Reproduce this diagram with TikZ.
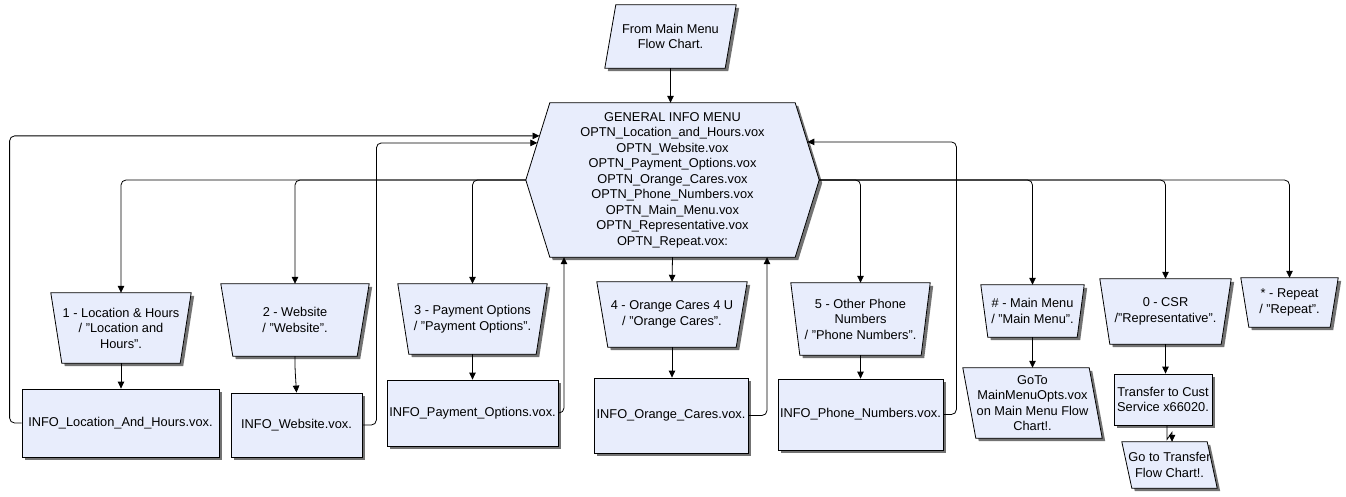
\documentclass[tikz,border=0pt]{standalone}
\usepackage{fontspec}
\setmainfont{Liberation Sans}
\usetikzlibrary{shadows,arrows.meta,calc}
\definecolor{boxfill}{RGB}{232,237,252}
\pgfdeclarelayer{paper}
\pgfdeclarelayer{shapes}
\pgfsetlayers{paper,shapes,main}
\begin{document}
\begin{tikzpicture}[x=1pt,y=-1pt,
  font=\fontsize{12.8}{15.5}\selectfont,
  every node/.style={inner sep=0pt, align=center},
  block/.style={draw=black, line width=0.8pt, fill=boxfill,
    drop shadow={shadow xshift=3pt, shadow yshift=-3pt, fill=black!55, opacity=1}},
  area/.style 2 args={rectangle, minimum width=#1, minimum height=#2},
  rectbox/.style 2 args={block, area={#1}{#2}},
  flow/.style={draw=black, line width=0.8pt, rounded corners=5pt,
    -{Triangle[length=7pt,width=6.5pt]}}]

\begin{pgfonlayer}{paper}
  \fill[white] (0,0) rectangle (1346,497);
\end{pgfonlayer}
\useasboundingbox (0,0) rectangle (1346,497);

% entry point and menu
\node[area={131}{63}] (from) at (670.5,36.5) {From Main Menu\\Flow Chart.};
\node[area={293}{154}] (hex) at (672.5,180)
  {GENERAL INFO MENU\\OPTN\_Location\_and\_Hours.vox\\OPTN\_Website.vox\\
   OPTN\_Payment\_Options.vox\\OPTN\_Orange\_Cares.vox\\OPTN\_Phone\_Numbers.vox\\
   OPTN\_Main\_Menu.vox\\OPTN\_Representative.vox\\OPTN\_Repeat.vox:};

% menu choices (manual operation shapes)
\node[area={140}{70}] (n1) at (121,328) {1 - Location \& Hours\\/ "Location and\\Hours".};
\node[area={148}{72}] (n2) at (295,320) {2 - Website\\/ "Website".};
\node[area={149}{70}] (n3) at (472.5,319) {3 - Payment Options\\/ "Payment Options".};
\node[area={150}{65}] (n4) at (672,314.5) {4 - Orange Cares 4 U\\/ "Orange Cares".};
\node[area={139}{72}] (n5) at (860.5,319) {5 - Other Phone\\Numbers\\/ "Phone Numbers".};
\node[area={103}{52}] (nh) at (1032.5,311) {\# - Main Menu\\/ "Main Menu".};
\node[area={131}{65}] (n0) at (1165.5,311.5) {0 - CSR\\/"Representative".};
\node[area={97}{49}] (ns) at (1289.5,302.5) {* - Repeat\\/ "Repeat".};

% prompts and targets
\node[rectbox={197}{68}] (loc) at (120.5,423) {INFO\_Location\_And\_Hours.vox.};
\node[rectbox={131}{64}] (web) at (296.5,425) {INFO\_Website.vox.};
\node[rectbox={171}{66}] (pay) at (472.5,413) {INFO\_Payment\_Options.vox.};
\node[rectbox={154}{75}] (ora) at (671,415.5) {INFO\_Orange\_Cares.vox.};
\node[rectbox={165}{71}] (pho) at (860.5,414.5) {INFO\_Phone\_Numbers.vox.};
\node[area={139}{70}] (goto) at (1032.5,403) {GoTo\\MainMenuOpts.vox\\on Main Menu Flow\\Chart!.};
\node[rectbox={98}{51}] (xfer) at (1163,399.5) {Transfer to Cust\\Service x66020.};
\node[area={95}{46}] (gotr) at (1169.5,465) {Go to Transfer\\Flow Chart!.};

% outlines behind the texts
\begin{pgfonlayer}{shapes}
  \path[block] (hex.west) -- ([xshift=24pt]hex.north west) -- ([xshift=-24pt]hex.north east)
    -- (hex.east) -- ([xshift=-24pt]hex.south east) -- ([xshift=24pt]hex.south west) -- cycle;
  \foreach \n/\s in {n1/11,n2/12,n3/11,n4/11,n5/9,nh/7,n0/10,ns/8}
    \path[block] (\n.north west) -- (\n.north east) -- ([xshift=-\s pt]\n.south east)
      -- ([xshift=\s pt]\n.south west) -- cycle;
  % input/output shape leaning right
  \path[block] ([xshift=11pt]from.north west) -- (from.north east)
    -- ([xshift=-11pt]from.south east) -- (from.south west) -- cycle;
  % input/output shapes leaning left
  \foreach \n/\s in {goto/13,gotr/10}
    \path[block] (\n.north west) -- ([xshift=-\s pt]\n.north east)
      -- (\n.south east) -- ([xshift=\s pt]\n.south west) -- cycle;
\end{pgfonlayer}

% entry points on the slanted menu edges
\coordinate (inA) at ($(hex.west)!0.5714!([xshift=24pt]hex.north west)$);
\coordinate (inB) at ($(hex.west)!0.4805!([xshift=24pt]hex.north west)$);
\coordinate (inE) at ($(hex.east)!0.4935!([xshift=-24pt]hex.north east)$);

% connectors
\draw[flow] (from.south) -- (from.south |- hex.north);
\draw[flow] (hex.west) -| (n1.north);
\draw[flow] (hex.west) -| (n2.north);
\draw[flow] (hex.west) -| (n3.north);
\draw[flow] (hex.south) -- (n4.north);
\draw[flow] (hex.east) -| (n5.north);
\draw[flow] (hex.east) -| (nh.north);
\draw[flow] (hex.east) -| (n0.north);
\draw[flow] (hex.east) -| (ns.north);

\draw[flow] (n1.south) -- (n1.south |- loc.north);
\draw[flow] (n2.south) -- ++(0,12) -- ([xshift=1.5pt]n2.south |- web.north);
\draw[flow] (n3.south) -- (n3.south |- pay.north);
\draw[flow] (n4.south) -- (n4.south |- ora.north);
\draw[flow] (n5.south) -- (n5.south |- pho.north);
\draw[flow] (nh.south) -- (nh.south |- goto.north);
\draw[flow] (n0.south) -- (n0.south |- xfer.north);
\draw[flow, rounded corners=0pt] ([xshift=4pt]xfer.south) -- ++(0,14) -- ++(5,-7) -- ([xshift=2.5pt]gotr.north);

% return paths to the menu
\draw[flow] (loc.west) -- ++(-12,0) |- (inA);
\draw[flow] (web.east) -- ++(14,0) |- (inB);
\draw[flow] (pay.east) -| ([xshift=-108.5pt]hex.south);
\draw[flow] (ora.east) -| ([xshift=94.5pt]hex.south);
\draw[flow] (pho.east) -- ++(13,0) |- (inE);
\end{tikzpicture}
\end{document}
